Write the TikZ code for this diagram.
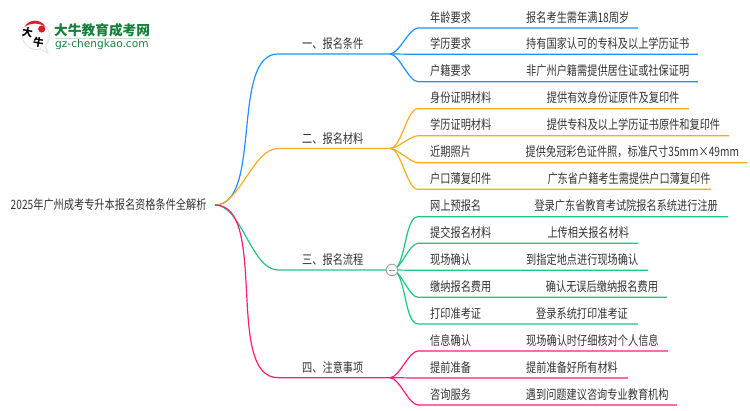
\documentclass[tikz,border=0pt]{standalone}
\usepackage{fontspec}
\setmainfont[FakeStretch=0.79]{Noto Sans CJK SC}
\newfontfamily\logofont{Noto Sans CJK SC}
\newfontfamily\urlfont{DejaVu Sans}
\definecolor{blueline}{HTML}{1E90FF}
\definecolor{orangeline}{HTML}{F9AE18}
\definecolor{greenline}{HTML}{1FC77E}
\definecolor{pinkline}{HTML}{FF1C7F}
\definecolor{labeltext}{HTML}{333333}
\definecolor{logogreen}{HTML}{14803A}
\definecolor{logored}{HTML}{D9202A}
\tikzset{
    txt/.style={anchor=west, inner sep=0pt, text=labeltext, font=\fontsize{12.9}{13}\selectfont},
    curve/.style={line width=1.2pt, out=0, in=180, looseness=0.75},
}
\begin{document}
\begin{tikzpicture}[x=1pt, y=-1pt]
    \useasboundingbox (0,0) rectangle (750,410);

    \def\topic#1#2#3#4#5{%
        \coordinate (#1a) at (278,#3);
        \coordinate (#1b) at (#4,#3);
        \draw[curve, #2] (rootend) to (#1a) -- (#1b);
        \node[txt] (#1t) at (302,#3-10) {#5};
    }

    \def\leaf#1#2#3#4#5#6#7#8{%
        \coordinate (#1a) at (418,#4);
        \coordinate (#1b) at (#5,#4);
        \draw[curve, looseness=0.6, #2] (#3) to (#1a) -- (#1b);
        \node[txt] (#1k) at (430,#4-10.8) {#6};
        \node[txt] (#1v) at (#7,#4-10.8) {#8};
    }

    \node[txt] (root) at (10.5,205) {2025年广州成考专升本报名资格条件全解析};
    \coordinate (rootend) at (215,205);

    \topic{cond}{blueline}{54}{390}{一、报名条件}
    \leaf{age}{blueline}{condb}{28}{638}{年龄要求}{526}{报名考生需年满18周岁}
    \leaf{edu}{blueline}{condb}{54.3}{698}{学历要求}{526}{持有国家认可的专科及以上学历证书}
    \leaf{reg}{blueline}{condb}{81.7}{698}{户籍要求}{526}{非广州户籍需提供居住证或社保证明}

    \topic{mat}{orangeline}{148.5}{390}{二、报名材料}
    \leaf{idc}{orangeline}{matb}{108.7}{689}{身份证明材料}{546.7}{提供有效身份证原件及复印件}
    \leaf{dip}{orangeline}{matb}{135.7}{729}{学历证明材料}{546.7}{提供专科及以上学历证书原件和复印件}
    \leaf{pho}{orangeline}{matb}{162.7}{747}{近期照片}{525.5}{提供免冠彩色证件照，标准尺寸35mm×49mm}
    \leaf{hkb}{orangeline}{matb}{189.3}{711}{户口薄复印件}{547.3}{广东省户籍考生需提供户口薄复印件}

    \topic{flow}{greenline}{270}{392}{三、报名流程}
    \leaf{net}{greenline}{flowb}{216.7}{728}{网上预报名}{534.3}{登录广东省教育考试院报名系统进行注册}
    \leaf{sub}{greenline}{flowb}{243.3}{638}{提交报名材料}{547.3}{上传相关报名材料}
    \leaf{chk}{greenline}{flowb}{270.3}{648}{现场确认}{526}{到指定地点进行现场确认}
    \leaf{pay}{greenline}{flowb}{297.3}{667}{缴纳报名费用}{545.7}{确认无误后缴纳报名费用}
    \leaf{prt}{greenline}{flowb}{324}{638}{打印准考证}{536}{登录系统打印准考证}

    \topic{note}{pinkline}{377.7}{390}{四、注意事项}
    \leaf{inf}{pinkline}{noteb}{351}{668}{信息确认}{526}{现场确认时仔细核对个人信息}
    \leaf{pre}{pinkline}{noteb}{378}{628}{提前准备}{526}{提前准备好所有材料}
    \leaf{ask}{pinkline}{noteb}{405}{677}{咨询服务}{525.7}{遇到问题建议咨询专业教育机构}

    % fold mark
    \node[circle, draw=gray!70, fill=white, line width=1pt, minimum size=11.5pt, inner sep=0pt] (fold) at (392,270) {};
    \draw[gray!80, line width=0.9pt] (fold.center) ++(-3,0) -- ++(6,0);

    % logo
    \draw[gray!25, fill=white, line width=0.8pt] (36,36) circle (13.5);
    \draw[gray!25, fill=white, line width=0.8pt] (40,49) -- (48,53) -- (45,46);
    \fill[logored] (24.5,27) .. controls (29,18.5) and (41,18.5) .. (45.5,27) .. controls (40,22.5) and (30,22.5) .. (24.5,27);
    \fill[logored] (41.7,29) circle (3.6);
    \node[inner sep=0pt, rotate=-10, font=\logofont\bfseries\fontsize{10.5}{11}\selectfont] (da) at (27.5,32) {大};
    \node[inner sep=0pt, rotate=-10, font=\logofont\bfseries\fontsize{10.5}{11}\selectfont] (niu) at (38.5,42) {牛};
    \node[anchor=west, inner sep=0pt, text=logogreen, font=\logofont\bfseries\fontsize{13.7}{14}\selectfont] (brand) at (54,29.8) {大牛教育成考网};
    \draw[logogreen!25, line width=0.7pt] (55,38.5) -- (150,38.5);
    \node[anchor=west, inner sep=0pt, text=logogreen, font=\urlfont\fontsize{10.6}{11}\selectfont] (url) at (55,44.7) {gz-chengkao.com};
\end{tikzpicture}
\end{document}
